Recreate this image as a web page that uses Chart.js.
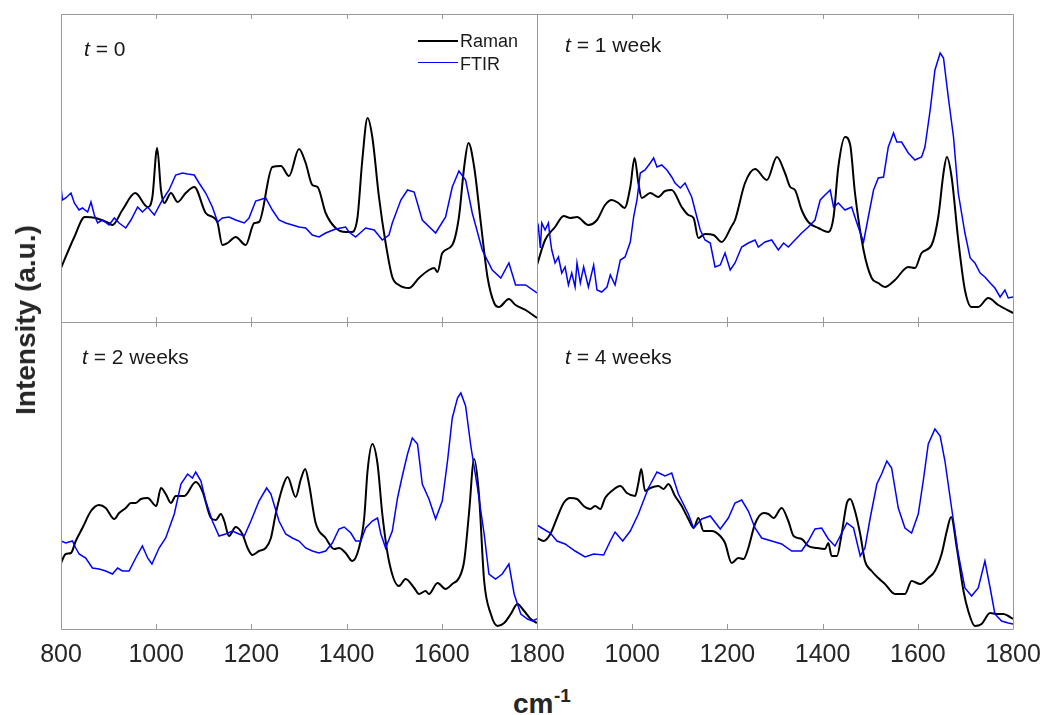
<!DOCTYPE html>
<html>
<head>
<meta charset="utf-8">
<script src="https://cdn.jsdelivr.net/npm/chart.js@4.4.1/dist/chart.umd.min.js"></script>
<style>
  body { margin: 0; background: #fff; overflow: hidden; }
  #wrap { position: relative; width: 1043px; height: 715px; overflow: hidden; font-family: 'Liberation Sans', Arial, sans-serif; color: #1a1a1a; }
  .panel { position: absolute; }
  .lab { position: absolute; font-size: 21px; line-height: 21px; white-space: nowrap; }
  .leg { position: absolute; font-size: 18px; line-height: 18px; white-space: nowrap; }
  .legline { position: absolute; width: 40px; }
</style>
</head>
<body>
<div id="wrap">
  <div class="panel" style="left:59px;top:12px"><canvas id="c0" width="480" height="312"></canvas></div>
  <div class="panel" style="left:535px;top:12px"><canvas id="c1" width="480" height="312"></canvas></div>
  <div class="panel" style="left:21px;top:320px"><canvas id="c2" width="556" height="349"></canvas></div>
  <div class="panel" style="left:497px;top:320px"><canvas id="c3" width="556" height="349"></canvas></div>

  <div class="lab" style="left:84px;top:38px"><i>t</i> = 0</div>
  <div class="lab" style="left:565px;top:34px"><i>t</i> = 1 week</div>
  <div class="lab" style="left:82px;top:346px"><i>t</i> = 2 weeks</div>
  <div class="lab" style="left:565px;top:346px"><i>t</i> = 4 weeks</div>

  <div class="legline" style="left:418px;top:40px;border-top:2px solid #000"></div>
  <div class="legline" style="left:418px;top:62px;border-top:1.5px solid #0000ff"></div>
  <div class="leg" style="left:460px;top:32px">Raman</div>
  <div class="leg" style="left:460px;top:55px">FTIR</div>

  <div style="position:absolute;left:26px;top:320px;transform:translate(-50%,-50%) rotate(-90deg);font-weight:bold;font-size:28px;line-height:28px;white-space:nowrap;color:#262626">Intensity (a.u.)</div>
  <div style="position:absolute;left:513px;top:690px;font-weight:bold;font-size:28px;line-height:28px;color:#262626">cm</div>
  <div style="position:absolute;left:554px;top:686px;font-weight:bold;font-size:19px;line-height:19px;color:#262626">-1</div>
</div>
<script>
// wavenumber (cm-1), intensity (arbitrary units)
const tickValues = [1000, 1200, 1400, 1600];

const raman0 = [[800,54],[828,85],[850,105],[873,104],[900,99],[908,97],[929,112],[956,129],[982,115],[992,125],[1002,174],[1010,132],[1017,119],[1031,129],[1045,120],[1062,129],[1080,135],[1104,109],[1122,104],[1129,99],[1139,77],[1150,79],[1167,85],[1188,77],[1206,99],[1216,100],[1244,155],[1262,156],[1279,146],[1300,173],[1314,159],[1328,137],[1339,135],[1356,109],[1377,94],[1398,90],[1412,90],[1423,105],[1433,162],[1444,204],[1454,185],[1468,125],[1482,79],[1496,45],[1510,37],[1531,34],[1552,44],[1573,52],[1584,54],[1591,50],[1601,69],[1622,77],[1636,105],[1647,155],[1656,179],[1668,155],[1682,99],[1696,45],[1710,19],[1720,15],[1741,23],[1755,17],[1776,12],[1800,4]];

const ftir0 = [[800,135],[803,122],[810,124],[821,129],[828,119],[838,112],[845,114],[856,110],[863,120],[870,107],[877,99],[887,102],[901,97],[912,104],[922,99],[936,94],[947,102],[961,115],[971,110],[982,115],[996,107],[1013,122],[1027,132],[1041,147],[1055,149],[1066,148],[1080,147],[1090,139],[1104,129],[1118,115],[1129,100],[1139,104],[1153,105],[1167,102],[1185,99],[1195,104],[1209,121],[1230,124],[1244,112],[1258,102],[1272,99],[1286,97],[1300,95],[1314,94],[1328,87],[1342,85],[1356,89],[1377,93],[1398,95],[1405,90],[1419,85],[1440,94],[1458,92],[1475,82],[1489,87],[1496,99],[1514,122],[1528,132],[1542,130],[1559,102],[1587,89],[1608,105],[1622,135],[1636,151],[1650,142],[1664,109],[1685,72],[1706,52],[1724,44],[1741,59],[1755,37],[1776,37],[1800,29]];

const raman1 = [[800,57],[817,82],[838,95],[856,106],[870,104],[884,105],[908,97],[926,102],[943,117],[957,122],[971,119],[984,114],[996,135],[1005,164],[1013,139],[1020,124],[1038,129],[1055,125],[1069,131],[1083,132],[1104,115],[1118,107],[1129,104],[1139,84],[1153,88],[1171,87],[1188,80],[1209,96],[1216,102],[1237,139],[1258,153],[1283,142],[1304,165],[1321,149],[1332,135],[1342,132],[1356,112],[1370,100],[1391,94],[1412,90],[1423,105],[1433,155],[1447,185],[1458,177],[1468,129],[1486,72],[1503,44],[1517,39],[1531,35],[1552,42],[1580,55],[1594,54],[1608,69],[1629,77],[1643,105],[1654,149],[1661,165],[1671,145],[1685,82],[1699,32],[1713,15],[1727,15],[1748,24],[1769,17],[1800,9]];

const ftir1 = [[800,89],[803,95],[807,74],[810,99],[817,92],[824,99],[828,82],[831,72],[838,59],[845,65],[852,49],[859,55],[866,37],[873,49],[880,35],[884,59],[891,39],[898,55],[908,35],[919,57],[926,32],[936,30],[947,35],[954,47],[964,37],[975,62],[985,65],[996,80],[1003,105],[1010,122],[1017,149],[1027,152],[1038,159],[1045,164],[1052,155],[1062,157],[1073,152],[1083,145],[1090,139],[1101,134],[1111,139],[1118,132],[1125,125],[1132,112],[1143,92],[1153,82],[1164,79],[1174,55],[1185,57],[1195,69],[1206,52],[1216,59],[1230,75],[1244,79],[1258,82],[1265,75],[1279,80],[1293,82],[1307,72],[1318,79],[1328,75],[1342,82],[1356,89],[1370,95],[1384,102],[1395,122],[1405,127],[1416,132],[1423,115],[1433,119],[1447,112],[1461,115],[1472,99],[1486,80],[1496,105],[1507,132],[1517,144],[1528,145],[1538,175],[1549,189],[1556,180],[1566,180],[1580,169],[1594,162],[1608,165],[1615,175],[1626,212],[1636,252],[1647,269],[1654,264],[1664,225],[1675,185],[1685,129],[1699,89],[1710,64],[1720,59],[1731,49],[1741,45],[1752,39],[1762,34],[1773,25],[1783,32],[1790,24],[1800,25]];

const raman2 = [[800,66],[810,75],[821,76],[831,88],[845,101],[863,118],[880,124],[894,121],[912,110],[922,116],[936,121],[947,126],[957,126],[968,130],[982,131],[1000,123],[1010,141],[1020,135],[1031,126],[1041,133],[1059,133],[1083,147],[1097,138],[1115,111],[1125,109],[1136,115],[1143,108],[1153,93],[1167,102],[1181,95],[1192,81],[1202,74],[1216,78],[1230,81],[1241,91],[1251,115],[1265,141],[1276,152],[1293,132],[1304,150],[1313,160],[1321,145],[1335,106],[1356,91],[1374,80],[1384,81],[1398,76],[1412,68],[1426,81],[1437,111],[1444,158],[1454,185],[1465,165],[1475,115],[1489,68],[1510,43],[1524,50],[1542,41],[1552,35],[1566,38],[1573,35],[1591,46],[1608,40],[1622,45],[1636,51],[1647,68],[1657,115],[1668,170],[1678,135],[1689,48],[1703,15],[1717,3],[1731,6],[1745,15],[1759,25],[1773,18],[1787,10],[1800,6]];

const ftir2 = [[800,88],[810,86],[824,88],[831,81],[838,75],[852,71],[866,61],[880,60],[894,58],[908,55],[919,61],[929,58],[943,58],[957,71],[971,83],[982,71],[991,65],[1006,81],[1020,91],[1038,115],[1052,145],[1066,155],[1076,151],[1083,157],[1094,148],[1104,128],[1118,108],[1132,93],[1146,95],[1160,98],[1174,95],[1185,93],[1199,108],[1216,128],[1232,141],[1241,135],[1258,108],[1272,95],[1286,91],[1300,88],[1314,81],[1328,78],[1342,76],[1356,78],[1370,86],[1384,100],[1395,102],[1409,96],[1419,88],[1430,88],[1440,101],[1454,108],[1465,111],[1472,95],[1482,81],[1496,98],[1507,131],[1517,153],[1528,175],[1538,191],[1549,185],[1559,145],[1573,130],[1587,110],[1601,128],[1612,168],[1622,211],[1633,231],[1640,236],[1650,223],[1661,183],[1675,141],[1689,95],[1699,55],[1713,50],[1727,55],[1741,65],[1752,35],[1766,15],[1780,10],[1790,8],[1800,10]];

const raman4 = [[800,91],[814,88],[828,95],[842,111],[856,126],[870,131],[884,130],[898,123],[912,120],[922,123],[933,120],[943,131],[957,138],[975,143],[989,136],[1006,133],[1013,146],[1019,160],[1027,138],[1038,141],[1055,143],[1066,140],[1076,145],[1090,133],[1104,123],[1118,110],[1129,101],[1139,111],[1150,98],[1167,98],[1185,93],[1195,86],[1209,66],[1223,71],[1234,70],[1244,81],[1258,105],[1276,116],[1286,115],[1297,111],[1314,121],[1328,108],[1339,93],[1356,90],[1370,83],[1388,81],[1405,80],[1412,86],[1419,73],[1430,73],[1440,95],[1451,126],[1458,130],[1468,118],[1479,95],[1489,68],[1503,58],[1517,51],[1531,45],[1552,35],[1573,35],[1587,48],[1605,45],[1622,51],[1636,58],[1650,75],[1661,98],[1670,112],[1682,81],[1696,38],[1706,18],[1720,3],[1734,5],[1752,16],[1766,15],[1780,15],[1790,13],[1800,10]];

const ftir4 = [[800,104],[810,101],[828,96],[842,88],[859,85],[880,78],[901,72],[919,75],[940,74],[954,88],[964,97],[980,88],[996,98],[1013,115],[1034,141],[1052,157],[1069,153],[1083,156],[1097,135],[1118,115],[1129,101],[1146,110],[1164,113],[1185,100],[1202,111],[1216,126],[1230,129],[1244,118],[1258,101],[1272,91],[1293,88],[1314,85],[1335,78],[1356,78],[1370,88],[1384,100],[1398,101],[1412,90],[1426,83],[1437,93],[1451,106],[1465,101],[1479,73],[1489,81],[1500,111],[1514,145],[1524,155],[1535,168],[1545,161],[1559,121],[1573,101],[1587,96],[1601,115],[1612,150],[1622,185],[1636,200],[1647,193],[1657,168],[1671,121],[1685,75],[1699,41],[1713,33],[1727,41],[1741,68],[1752,41],[1762,15],[1776,8],[1790,6],[1800,5]];

const toXY = arr => arr.map(([x, y]) => ({ x, y }));

const framePlugin = {
  id: 'frame',
  afterDatasetsDraw(chart, args, opts) {
    const { ctx, chartArea: a, scales } = chart;
    const x = scales.x;
    ctx.save();
    ctx.lineWidth = 1;
    ctx.strokeStyle = '#9a9a9a';
    ctx.beginPath();
    tickValues.forEach(v => {
      const px = Math.round(x.getPixelForValue(v)) + 0.5;
      ctx.moveTo(px, a.top);
      ctx.lineTo(px, a.top + 5);
      ctx.moveTo(px, a.bottom);
      ctx.lineTo(px, a.bottom - 5);
    });
    ctx.stroke();
    const l = a.left + 0.5, r = a.right + 0.5, t = a.top + 0.5, b = a.bottom + 0.5;
    ctx.beginPath();
    ctx.moveTo(l, t); ctx.lineTo(r, t);
    ctx.moveTo(l, b); ctx.lineTo(r, b);
    ctx.moveTo(l, t); ctx.lineTo(l, b);
    if (!opts.darkRight) { ctx.moveTo(r, t); ctx.lineTo(r, b); }
    ctx.stroke();
    if (opts.darkRight) {
      ctx.strokeStyle = '#202020';
      ctx.beginPath();
      ctx.moveTo(r, t); ctx.lineTo(r, b);
      ctx.stroke();
    }
    ctx.restore();
  }
};

function makePanel(id, raman, ftir, opt) {
  const xScale = {
    type: 'linear',
    min: 800,
    max: 1800,
    display: opt.labels,
    grid: { display: false, drawTicks: false },
    border: { display: false },
    ticks: {
      stepSize: 200,
      autoSkip: false,
      maxRotation: 0,
      padding: 11,
      color: '#262626',
      font: { family: "'Liberation Sans', Arial, sans-serif", size: 25 },
      callback: v => (opt.hideFirst && v === 800) ? '' : v
    }
  };
  if (opt.labels) xScale.afterFit = s => { s.height = 40; };
  return new Chart(document.getElementById(id), {
    type: 'line',
    data: {
      datasets: [
        { label: 'FTIR', data: toXY(ftir), borderColor: '#0000ff', borderWidth: 1.5, pointRadius: 0, tension: 0 },
        { label: 'Raman', data: toXY(raman), borderColor: '#000000', borderWidth: 2, pointRadius: 0, cubicInterpolationMode: 'monotone' }
      ]
    },
    options: {
      responsive: false,
      animation: false,
      devicePixelRatio: 1,
      layout: { padding: opt.padding },
      plugins: {
        legend: { display: false },
        tooltip: { enabled: false },
        frame: { darkRight: opt.darkRight }
      },
      scales: {
        x: xScale,
        y: { type: 'linear', min: 0, max: opt.ymax, display: false }
      }
    },
    plugins: [framePlugin]
  });
}

makePanel('c0', raman0, ftir0, { labels: false, padding: { left: 2, right: 2, top: 2, bottom: 2 }, ymax: 308, darkRight: true });
makePanel('c1', raman1, ftir1, { labels: false, padding: { left: 2, right: 2, top: 2, bottom: 2 }, ymax: 308, darkRight: false });
makePanel('c2', raman2, ftir2, { labels: true, padding: { left: 40, right: 40, top: 2, bottom: 0 }, ymax: 307, darkRight: true });
makePanel('c3', raman4, ftir4, { labels: true, hideFirst: true, padding: { left: 40, right: 40, top: 2, bottom: 0 }, ymax: 307, darkRight: false });
</script>
</body>
</html>
